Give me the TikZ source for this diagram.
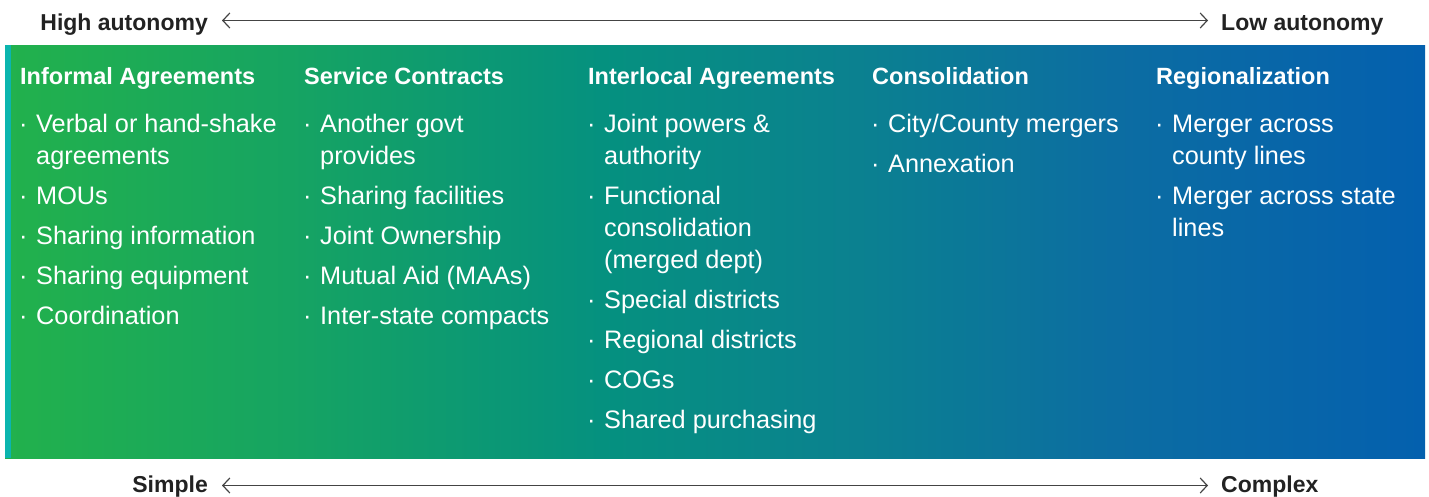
\documentclass[tikz,border=0pt]{standalone}
\usepackage{fontspec}
\setmainfont{Liberation Sans}
\usetikzlibrary{arrows.meta}
\definecolor{gA}{HTML}{22B14C}
\definecolor{gB}{HTML}{16A462}
\definecolor{gC}{HTML}{05917F}
\definecolor{gD}{HTML}{0B8190}
\definecolor{gE}{HTML}{0C6DA2}
\definecolor{gF}{HTML}{0460AE}
\definecolor{stripc}{HTML}{0BB5AE}
\definecolor{inkc}{HTML}{222222}
\definecolor{linec}{HTML}{444444}
\pgfdeclarehorizontalshading{panelshade}{100bp}{color(0bp)=(gA); color(25bp)=(gA); color(35bp)=(gB); color(46bp)=(gC); color(55bp)=(gD); color(64bp)=(gE); color(75bp)=(gF); color(100bp)=(gF)}
\tikzset{
  axislabel/.style={inner sep=0pt, text=inkc, font=\fontsize{23}{27}\selectfont\bfseries},
  headtxt/.style={inner sep=0pt, text=white, font=\fontsize{23.5}{28}\selectfont\bfseries, anchor=base west},
  bodytxt/.style={inner sep=0pt, text=white, font=\fontsize{25.3}{30}\selectfont, anchor=base west},
  axisline/.style={draw=linec, line width=1.2pt, {Straight Barb[length=7pt,width=15pt,line width=1.2pt]}-{Straight Barb[length=7pt,width=15pt,line width=1.2pt]}}
}
\newcommand\itemline[4]{%
  \node[bodytxt] (#1d) at ({#2-17},#3) {·};
  \node[bodytxt] (#1) at (#2,#3) {#4};}
\newcommand\contline[4]{%
  \node[bodytxt] (#1) at (#2,#3) {#4};}
\begin{document}
\begin{tikzpicture}[x=1pt,y=-1pt]
\useasboundingbox (0,0) rectangle (1429,496);
% panel
\shade[shading=panelshade] (5,45) rectangle (1425,458);
\fill[stripc] (5,45) rectangle (11,458);
% axis labels and arrows
\node[axislabel, anchor=base east] (hi) at (208,30) {High autonomy};
\node[axislabel, anchor=base west] (lo) at (1221,30) {Low autonomy};
\coordinate (ta) at (222,20.5);
\coordinate (tb) at (1208,20.5);
\draw[axisline] (ta) -- (tb);
\node[axislabel, anchor=base east] (simple) at (208,492) {Simple};
\node[axislabel, anchor=base west] (complex) at (1221,492) {Complex};
\coordinate (ba) at (222,485.5);
\coordinate (bb) at (1208,485.5);
\draw[axisline] (ba) -- (bb);
% headings
\node[headtxt] (h1) at (20,84) {Informal Agreements};
\node[headtxt] (h2) at (304,84) {Service Contracts};
\node[headtxt] (h3) at (588,84) {Interlocal Agreements};
\node[headtxt] (h4) at (872,84) {Consolidation};
\node[headtxt] (h5) at (1156,84) {Regionalization};
% column 1
\itemline{a1}{36}{132}{Verbal or hand-shake}
\contline{a1b}{36}{164}{agreements}
\itemline{a2}{36}{204}{MOUs}
\itemline{a3}{36}{244}{Sharing information}
\itemline{a4}{36}{284}{Sharing equipment}
\itemline{a5}{36}{324}{Coordination}
% column 2
\itemline{b1}{320}{132}{Another govt}
\contline{b1b}{320}{164}{provides}
\itemline{b2}{320}{204}{Sharing facilities}
\itemline{b3}{320}{244}{Joint Ownership}
\itemline{b4}{320}{284}{Mutual Aid (MAAs)}
\itemline{b5}{320}{324}{Inter-state compacts}
% column 3
\itemline{c1}{604}{132}{Joint powers \&}
\contline{c1b}{604}{164}{authority}
\itemline{c2}{604}{204}{Functional}
\contline{c2b}{604}{236}{consolidation}
\contline{c2c}{604}{268}{(merged dept)}
\itemline{c3}{604}{308}{Special districts}
\itemline{c4}{604}{348}{Regional districts}
\itemline{c5}{604}{388}{COGs}
\itemline{c6}{604}{428}{Shared purchasing}
% column 4
\itemline{d1}{888}{132}{City/County mergers}
\itemline{d2}{888}{172}{Annexation}
% column 5
\itemline{e1}{1172}{132}{Merger across}
\contline{e1b}{1172}{164}{county lines}
\itemline{e2}{1172}{204}{Merger across state}
\contline{e2b}{1172}{236}{lines}
\end{tikzpicture}
\end{document}
